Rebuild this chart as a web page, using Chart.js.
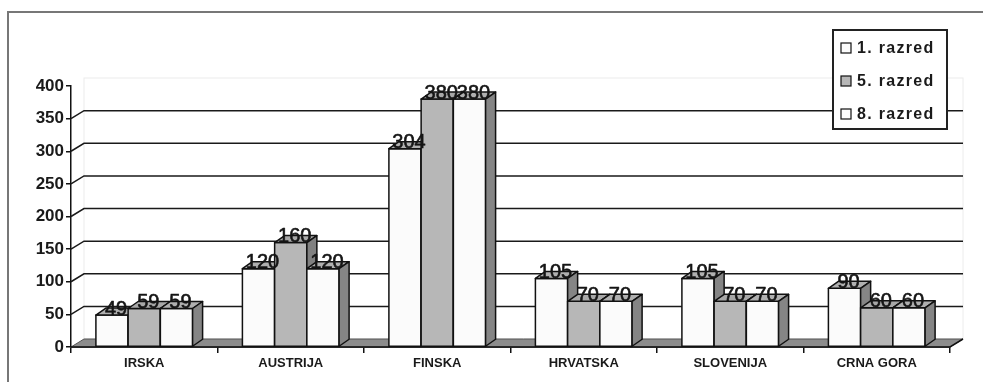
<!DOCTYPE html>
<html>
<head>
<meta charset="utf-8">
<script src="https://cdn.jsdelivr.net/npm/chart.js@4.4.1/dist/chart.umd.min.js"></script>
<style>
  html, body { margin: 0; padding: 0; background: #fff; }
  canvas { display: block; }
</style>
</head>
<body>
<canvas id="chart" width="983" height="382"></canvas>
<script>
// categories and values per grade
const categories = ['IRSKA', 'AUSTRIJA', 'FINSKA', 'HRVATSKA', 'SLOVENIJA', 'CRNA GORA'];
const grade1 = [49, 120, 304, 105, 105, 90];
const grade5 = [59, 160, 380, 70, 70, 60];
const grade8 = [59, 120, 380, 70, 70, 60];
const seriesNames = ['1. razred', '5. razred', '8. razred'];
const yTicks = [0, 50, 100, 150, 200, 250, 300, 350, 400];

const FONT = '"Liberation Sans", Arial, sans-serif';

// fake 3d depth
const BAR_DX = 10, BAR_DY = 7;
const WALL_DX = 13, WALL_DY = 8;

const faces = [
  { front: '#fbfbfb', top: '#b0b0b0', side: '#858585' },
  { front: '#b7b7b7', top: '#a8a8a8', side: '#808080' },
  { front: '#fbfbfb', top: '#b0b0b0', side: '#858585' }
];

function poly(ctx, pts, fill) {
  ctx.beginPath();
  ctx.moveTo(pts[0][0], pts[0][1]);
  for (let i = 1; i < pts.length; i++) ctx.lineTo(pts[i][0], pts[i][1]);
  ctx.closePath();
  ctx.fillStyle = fill;
  ctx.fill();
  ctx.stroke();
}

const box3d = {
  id: 'box3d',
  beforeDraw(chart) {
    const ctx = chart.ctx;
    ctx.save();
    // outer frame
    ctx.strokeStyle = '#777';
    ctx.lineWidth = 2;
    ctx.beginPath();
    ctx.moveTo(8, chart.height);
    ctx.lineTo(8, 12);
    ctx.lineTo(chart.width, 12);
    ctx.stroke();
    ctx.restore();
  },
  beforeDatasetsDraw(chart) {
    const ctx = chart.ctx;
    const yS = chart.scales.y;
    const { left, right, top, bottom } = chart.chartArea;
    ctx.save();
    // back wall outline
    ctx.strokeStyle = '#ececec';
    ctx.lineWidth = 1;
    ctx.strokeRect(left + WALL_DX, top - WALL_DY, right - left, bottom - top);

    // gridlines on the back wall
    ctx.strokeStyle = '#1a1a1a';
    ctx.lineWidth = 1.5;
    yTicks.forEach(v => {
      if (v === 0 || v === yTicks[yTicks.length - 1]) return;
      const y = yS.getPixelForValue(v);
      ctx.beginPath();
      ctx.moveTo(left, y);
      ctx.lineTo(left + WALL_DX, y - WALL_DY);
      ctx.lineTo(right + WALL_DX, y - WALL_DY);
      ctx.stroke();
    });

    // floor
    ctx.strokeStyle = '#555';
    ctx.lineWidth = 1;
    poly(ctx, [[left, bottom], [right, bottom], [right + WALL_DX, bottom - WALL_DY], [left + WALL_DX, bottom - WALL_DY]], '#8c8c8c');
    ctx.strokeStyle = '#111';
    ctx.lineWidth = 1.5;
    ctx.beginPath();
    ctx.moveTo(left, bottom);
    ctx.lineTo(right, bottom);
    ctx.lineTo(right + WALL_DX, bottom - WALL_DY);
    ctx.stroke();
    ctx.restore();
  },
  // bars are painted by hand below so faces overlap left to right
  beforeDatasetDraw() {
    return false;
  },
  afterDatasetsDraw(chart) {
    const ctx = chart.ctx;
    ctx.save();
    ctx.strokeStyle = '#111';
    ctx.lineWidth = 1.5;
    ctx.lineJoin = 'round';
    const metas = chart.data.datasets.map((d, i) => chart.getDatasetMeta(i));
    for (let c = 0; c < categories.length; c++) {
      metas.forEach((meta, di) => {
        const { x, y, base, width } = meta.data[c].getProps(['x', 'y', 'base', 'width'], true);
        const l = x - width / 2, r = x + width / 2;
        const f = faces[di];
        poly(ctx, [[l, y], [r, y], [r, base], [l, base]], f.front);
        poly(ctx, [[l, y], [r, y], [r + BAR_DX, y - BAR_DY], [l + BAR_DX, y - BAR_DY]], f.top);
        poly(ctx, [[r, y], [r + BAR_DX, y - BAR_DY], [r + BAR_DX, base - BAR_DY], [r, base]], f.side);
      });
    }
    // value labels, slightly stroked so they read heavier
    ctx.fillStyle = '#151515';
    ctx.strokeStyle = '#151515';
    ctx.lineWidth = 0.6;
    ctx.font = '20px ' + FONT;
    ctx.textAlign = 'center';
    ctx.textBaseline = 'middle';
    metas.forEach((meta, di) => {
      const values = chart.data.datasets[di].data;
      meta.data.forEach((bar, i) => {
        const tx = bar.x + BAR_DX / 2 - 1, ty = bar.y - 6;
        ctx.fillText(String(values[i]), tx, ty);
        ctx.strokeText(String(values[i]), tx, ty);
      });
    });
    ctx.restore();
  },
  afterDraw(chart) {
    const ctx = chart.ctx;
    const bx = chart.width - 150, by = 30, bw = 114, bh = 99;
    ctx.save();
    ctx.fillStyle = '#fff';
    ctx.fillRect(bx, by, bw, bh);
    ctx.strokeStyle = '#222';
    ctx.lineWidth = 2;
    ctx.strokeRect(bx, by, bw, bh);
    ctx.font = 'bold 16px ' + FONT;
    ctx.letterSpacing = '1.3px';
    ctx.textBaseline = 'middle';
    ctx.textAlign = 'left';
    seriesNames.forEach((name, i) => {
      const cy = by + 18 + i * 33;
      ctx.fillStyle = faces[i].front;
      ctx.lineWidth = 1.2;
      ctx.strokeStyle = '#111';
      ctx.fillRect(bx + 8, cy - 5, 10, 10);
      ctx.strokeRect(bx + 8, cy - 5, 10, 10);
      ctx.fillStyle = '#1a1a1a';
      ctx.fillText(name, bx + 24, cy + 1);
    });
    ctx.restore();
  }
};

new Chart(document.getElementById('chart'), {
  type: 'bar',
  data: {
    labels: categories,
    datasets: [
      { label: seriesNames[0], data: grade1, backgroundColor: faces[0].front },
      { label: seriesNames[1], data: grade5, backgroundColor: faces[1].front },
      { label: seriesNames[2], data: grade8, backgroundColor: faces[2].front }
    ]
  },
  options: {
    responsive: false,
    animation: false,
    datasets: {
      bar: { categoryPercentage: 0.66, barPercentage: 1.0 }
    },
    layout: { padding: { top: 86, right: 33, left: 0, bottom: 0 } },
    plugins: {
      legend: { display: false },
      tooltip: { enabled: false }
    },
    scales: {
      x: {
        grid: { drawOnChartArea: false, drawTicks: true, tickLength: 6, color: '#111', lineWidth: 1.5 },
        border: { display: true, color: '#111', width: 1.5 },
        ticks: { color: '#1a1a1a', padding: 3, font: { family: FONT, weight: 'bold', size: 13 } },
        afterFit(scale) { scale.height = 35; }
      },
      y: {
        min: 0,
        max: 400,
        afterBuildTicks(scale) { scale.ticks = yTicks.map(v => ({ value: v })); },
        grid: { drawOnChartArea: false, drawTicks: true, tickLength: 5, color: '#111', lineWidth: 1.5 },
        border: { display: true, color: '#111', width: 1.5 },
        ticks: { color: '#1a1a1a', padding: 2, font: { family: FONT, weight: 'bold', size: 17 } },
        afterFit(scale) { scale.width = 71; }
      }
    }
  },
  plugins: [box3d]
});
</script>
</body>
</html>
